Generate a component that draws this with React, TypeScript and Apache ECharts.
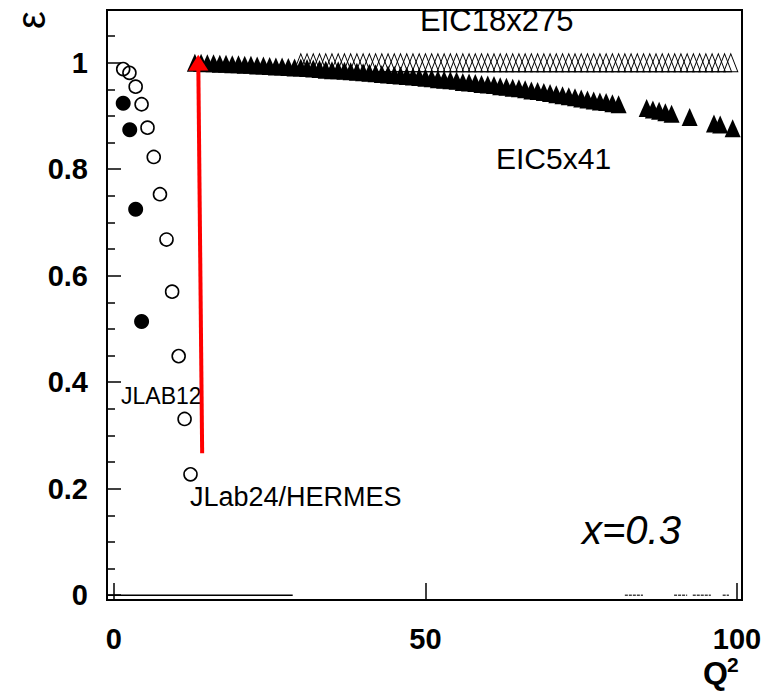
import React, { useEffect, useRef } from "react";
import * as echarts from "echarts";

// JLab24/HERMES (open circles)
const Q2_JLAB24 = [1.5, 2.5, 3.5, 4.45, 5.4, 6.4, 7.4, 8.45, 9.35, 10.4, 11.35, 12.3];
const EPS_JLAB24 = [0.988, 0.981, 0.955, 0.922, 0.878, 0.823, 0.753, 0.668, 0.57, 0.449, 0.331, 0.227];

// JLAB12 (filled circles)
const Q2_JLAB12 = [1.5, 2.55, 3.5, 4.45];
const EPS_JLAB12 = [0.924, 0.874, 0.725, 0.514];

// EIC5x41 (filled triangles)
const Q2_EIC5 = [
  13, 14, 15, 16, 17, 18, 19, 20, 21, 22, 23, 24, 25, 26, 27, 28, 29, 30,
  31, 32, 33, 34, 35, 36, 37, 38, 39, 40, 41, 42, 43, 44, 45, 46, 47, 48, 49, 50,
  51, 52, 53, 54, 55, 56, 57, 58, 59, 60, 61, 62, 63, 64, 65, 66, 67, 68, 69, 70,
  71, 72, 73, 74, 75, 76, 77, 78, 79, 80, 81,
  85.5, 86.5, 87.5, 88.5, 89.5, 92.4, 96.3, 97.3, 99.3,
];
const EPS_EIC5 = [
  1.0, 1.0, 0.999, 0.999, 0.998, 0.998, 0.997, 0.997, 0.996, 0.996, 0.995, 0.995, 0.994, 0.993, 0.993, 0.992, 0.991, 0.991,
  0.99, 0.989, 0.988, 0.987, 0.986, 0.986, 0.985, 0.984, 0.983, 0.982, 0.981, 0.98, 0.979, 0.978, 0.977, 0.976, 0.975, 0.974, 0.973, 0.972,
  0.971, 0.969, 0.968, 0.967, 0.966, 0.964, 0.963, 0.962, 0.96, 0.959, 0.958, 0.956, 0.955, 0.953, 0.952, 0.95, 0.948, 0.947, 0.945, 0.943,
  0.941, 0.939, 0.937, 0.935, 0.933, 0.931, 0.929, 0.927, 0.926, 0.924, 0.922,
  0.915, 0.912, 0.91, 0.907, 0.904, 0.898, 0.886, 0.884, 0.877,
];

// EIC18x275 (open triangles)
const Q2_EIC18 = [
  30, 31, 32, 33, 34, 35, 36, 37, 38, 39, 40, 41, 42, 43, 44, 45, 46, 47, 48, 49,
  50, 51, 52, 53, 54, 55, 56, 57, 58, 59, 60, 61, 62, 63, 64, 65, 66, 67, 68, 69,
  70, 71, 72, 73, 74, 75, 76, 77, 78, 79, 80, 81, 82, 83, 84, 85, 86, 87, 88, 89,
  90, 91, 92, 93, 94, 95, 96, 97, 98, 99,
];
const EPS_EIC18 = [
  1, 1, 1, 1, 1, 1, 1, 1, 1, 1, 1, 1, 1, 1, 1, 1, 1, 1, 1, 1,
  1, 1, 1, 1, 1, 1, 1, 1, 1, 1, 1, 1, 1, 1, 1, 1, 1, 1, 1, 1,
  1, 1, 1, 1, 1, 1, 1, 1, 1, 1, 1, 1, 1, 1, 1, 1, 1, 1, 1, 1,
  1, 1, 1, 1, 1, 1, 1, 1, 1, 1,
];

// baseline segments at epsilon = 0
const BASE_SOLID = [[-1.1, 0], [28.7, 0]];
const BASE_DASH = [[82.0, 0], [84.9, 0], null, [89.9, 0], [92.0, 0], null, [92.9, 0], [95.8, 0], null, [97.7, 0], [98.7, 0]];

// red arrow (from, to)
const ARROW = [[14.17, 0.2665], [13.55, 1.0]];

const X_TICKS = [0, 50, 100];
const Y_TICKS = [0, 0.2, 0.4, 0.6, 0.8, 1];
const Y_MINOR = [0.05, 0.1, 0.15, 0.25, 0.3, 0.35, 0.45, 0.5, 0.55, 0.65, 0.7, 0.75, 0.85, 0.9, 0.95, 1.05];

const zip = (a: number[], b: number[]) => a.map((v, i) => [v, b[i]]);

const SANS = "'Liberation Sans', Arial, sans-serif";

export default function App() {
  const ref = useRef<HTMLDivElement>(null);
  useEffect(() => {
    document.body.style.margin = "0";
    const chart = echarts.init(ref.current!, null, { renderer: "svg" });
    const yBase = {
      type: "value",
      min: -0.009,
      max: 1.099,
      position: "left",
      splitLine: { show: false },
      axisLine: { show: true, onZero: false, lineStyle: { color: "#000", width: 2 } },
    };
    const tickFont = { color: "#000", fontSize: 29, fontWeight: "bold", fontFamily: SANS };
    chart.setOption({
      animation: false,
      backgroundColor: "#fff",
      grid: { left: 107, right: 30, top: 10, bottom: 93, show: true, borderColor: "#000", borderWidth: 2 },
      xAxis: {
        type: "value",
        min: -1.1,
        max: 100.8,
        splitLine: { show: false },
        axisLine: { show: true, onZero: false, lineStyle: { color: "#000", width: 2 } },
        axisTick: { show: true, inside: true, length: 17, customValues: X_TICKS, lineStyle: { color: "#000", width: 1.5 } },
        axisLabel: { customValues: X_TICKS, margin: 24, ...tickFont },
      },
      yAxis: [
        {
          ...yBase,
          axisTick: { show: true, inside: true, length: 14, customValues: Y_TICKS, lineStyle: { color: "#000", width: 1.5 } },
          axisLabel: {
            customValues: Y_TICKS,
            margin: 19,
            ...tickFont,
            formatter: (v: number) => String(Math.round(v * 10) / 10),
          },
        },
        {
          ...yBase,
          axisTick: { show: true, inside: true, length: 8, customValues: Y_MINOR, lineStyle: { color: "#000", width: 1.5 } },
          axisLabel: { show: false },
        },
      ],
      series: [
        {
          type: "line",
          data: BASE_SOLID,
          showSymbol: false,
          symbol: "none",
          lineStyle: { color: "#000", width: 1.5 },
          silent: true,
        },
        {
          type: "line",
          data: BASE_DASH,
          showSymbol: false,
          symbol: "none",
          connectNulls: false,
          lineStyle: { color: "#444", width: 1.5, type: [3, 1] },
          silent: true,
        },
        {
          name: "EIC5x41",
          type: "scatter",
          data: zip(Q2_EIC5, EPS_EIC5),
          symbol: "triangle",
          symbolSize: [16, 18],
          itemStyle: { color: "#000", opacity: 1 },
        },
        {
          name: "EIC18x275",
          type: "scatter",
          data: zip(Q2_EIC18, EPS_EIC18),
          symbol: "triangle",
          symbolSize: [14, 18],
          itemStyle: { color: "rgba(0,0,0,0)", borderColor: "#000", borderWidth: 1, opacity: 1 },
        },
        {
          name: "JLab24/HERMES",
          type: "scatter",
          data: zip(Q2_JLAB24, EPS_JLAB24),
          symbol: "circle",
          symbolSize: 13,
          itemStyle: { color: "rgba(0,0,0,0)", borderColor: "#000", borderWidth: 1.6, opacity: 1 },
        },
        {
          name: "JLAB12",
          type: "scatter",
          data: zip(Q2_JLAB12, EPS_JLAB12),
          symbol: "circle",
          symbolSize: 15,
          itemStyle: { color: "#000", opacity: 1 },
        },
        {
          type: "line",
          data: [],
          silent: true,
          z: 10,
          markLine: {
            silent: true,
            animation: false,
            symbol: ["none", "triangle"],
            symbolSize: [20, 16],
            label: { show: false },
            lineStyle: { color: "#ff0000", width: 4, type: "solid" },
            data: [[{ coord: ARROW[0] }, { coord: ARROW[1] }]],
          },
        },
      ],
      graphic: [
        { type: "text", x: 31, y: 20, rotation: Math.PI / 2, style: { text: "ε", fontSize: 40, fontFamily: SANS, fill: "#000", align: "center", verticalAlign: "middle" } },
        { type: "text", x: 420, y: 20, z: 100, style: { text: "EIC18x275", fontSize: 31, fontFamily: SANS, fill: "#000", align: "left", verticalAlign: "middle" } },
        { type: "text", x: 496, y: 158, style: { text: "EIC5x41", fontSize: 30, fontFamily: SANS, fill: "#000", align: "left", verticalAlign: "middle" } },
        { type: "text", x: 121, y: 396, style: { text: "JLAB12", fontSize: 23, fontFamily: SANS, fill: "#000", align: "left", verticalAlign: "middle" } },
        { type: "text", x: 190, y: 497, style: { text: "JLab24/HERMES", fontSize: 27, fontFamily: SANS, fill: "#000", align: "left", verticalAlign: "middle" } },
        { type: "text", x: 582, y: 530, style: { text: "x=0.3", fontSize: 40, fontStyle: "italic", fontFamily: SANS, fill: "#000", align: "left", verticalAlign: "middle" } },
        { type: "text", x: 703, y: 673, style: { text: "Q", fontSize: 32, fontWeight: "bold", fontFamily: SANS, fill: "#000", align: "left", verticalAlign: "middle" } },
        { type: "text", x: 727, y: 664, style: { text: "2", fontSize: 21, fontWeight: "bold", fontFamily: SANS, fill: "#000", align: "left", verticalAlign: "middle" } },
      ],
    });
    return () => chart.dispose();
  }, []);
  return <div ref={ref} style={{ position: "fixed", left: 0, top: 0, width: 772, height: 693 }} />;
}
